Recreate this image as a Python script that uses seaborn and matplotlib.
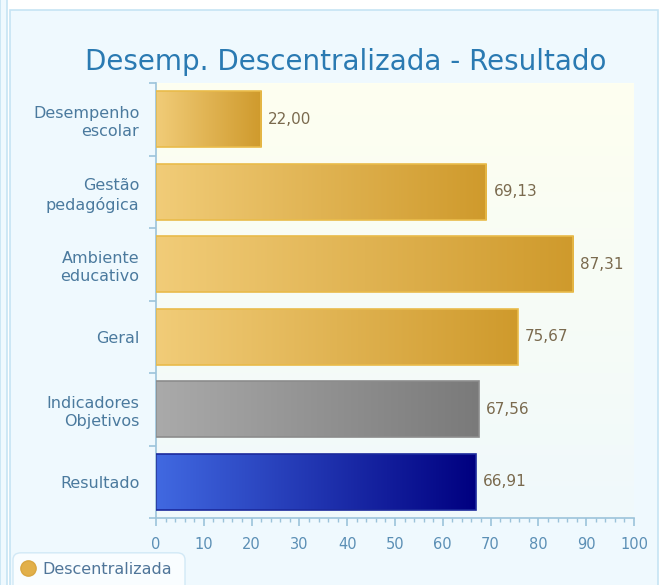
import numpy as np
import pandas as pd
import seaborn as sns
import matplotlib.pyplot as plt
from matplotlib.patches import Rectangle, FancyBboxPatch
from matplotlib.lines import Line2D
from matplotlib.colors import to_rgb
from matplotlib.ticker import MultipleLocator, FixedLocator

# Data
categories = ["Desempenho\nescolar", "Gestão\npedagógica", "Ambiente\neducativo",
              "Geral", "Indicadores\nObjetivos", "Resultado"]
values = [22.00, 69.13, 87.31, 75.67, 67.56, 66.91]
value_labels = ["22,00", "69,13", "87,31", "75,67", "67,56", "66,91"]
legend_label = "Descentralizada"
title = "Desemp. Descentralizada - Resultado"

# gradient (left, right, edge) for each bar
gold = ("#f1cc78", "#cf9a2c", "#e9bb4a")
grey = ("#aaaaaa", "#7a7a7a", "#8c8c8c")
blue = ("#4169e1", "#000080", "#1c2a9c")
bar_styles = [gold, gold, gold, gold, grey, blue]

df = pd.DataFrame({"cat": categories, "val": values})

sns.set_theme(style="white")
plt.rcParams["font.family"] = ["DejaVu Sans"]

fig = plt.figure(figsize=(6.64, 5.85), dpi=100)
fig.patch.set_facecolor("white")

# outer panel
W, H = 664, 585
fig.patches.append(Rectangle((10 / W, -0.01), 648 / W, 1 - 10 / H + 0.01, transform=fig.transFigure,
                             facecolor="#eff9fe", edgecolor="#c6e4f4", lw=1.2, zorder=-2))
fig.patches.append(Rectangle((0, -0.01), 7 / W, 1.02, transform=fig.transFigure,
                             facecolor="#eff9fe", edgecolor="#c6e4f4", lw=1.2, zorder=-2))

ax = fig.add_axes([156 / W, 1 - 518 / H, 478 / W, 435 / H])

sns.barplot(data=df, x="val", y="cat", hue="cat", palette=[s[0] for s in bar_styles],
            legend=False, orient="h", width=0.77, ax=ax, saturation=1)

# background gradient of plot area
bg = np.linspace(0, 1, 256)[:, None]
top, bot = np.array(to_rgb("#fefff0")), np.array(to_rgb("#f0f9fc"))
bg_img = top[None, None, :] * (1 - bg[..., None]) + bot[None, None, :] * bg[..., None]
ax.imshow(bg_img, extent=[0, 1, 0, 1], transform=ax.transAxes, aspect="auto", zorder=-5)
ax.patch.set_facecolor("none")

# horizontal gradients on bars
for patch, (c0, c1, ec) in zip(ax.patches, bar_styles):
    x0, y0 = patch.get_x(), patch.get_y()
    w, h = patch.get_width(), patch.get_height()
    t = np.linspace(0, 1, 256)[None, :, None]
    img = np.array(to_rgb(c0))[None, None, :] * (1 - t) + np.array(to_rgb(c1))[None, None, :] * t
    im = ax.imshow(img, extent=[x0, x0 + w, y0 + h, y0], aspect="auto", zorder=2)
    im.set_clip_path(patch)
    patch.set_facecolor("none")
    patch.set_edgecolor(ec)
    patch.set_linewidth(1.2)
    patch.set_zorder(3)

# value labels
for i, (v, lab) in enumerate(zip(values, value_labels)):
    ax.annotate(lab, (v, i), xytext=(5, 0), textcoords="offset points",
                va="center", ha="left", fontsize=11, color="#7a6a4e")

ax.set_xlim(0, 100)
ax.set_ylim(len(categories) - 0.5, -0.5)
ax.set_xlabel("")
ax.set_ylabel("")

axis_col = "#9cc3da"
for s in ["top", "right"]:
    ax.spines[s].set_visible(False)
for s in ["left", "bottom"]:
    ax.spines[s].set_color(axis_col)
    ax.spines[s].set_linewidth(1.2)

ax.xaxis.set_major_locator(MultipleLocator(10))
ax.xaxis.set_minor_locator(MultipleLocator(2))
ax.tick_params(axis="x", which="major", direction="out", length=6, width=1.2,
               color=axis_col, labelsize=10.5, labelcolor="#5b8fb5", pad=8, bottom=True)
ax.tick_params(axis="x", which="minor", direction="out", length=3, width=1,
               color=axis_col, bottom=True)

ax.yaxis.set_minor_locator(FixedLocator(np.arange(-0.5, len(categories), 1.0)))
ax.tick_params(axis="y", which="major", length=0, labelsize=11.5, labelcolor="#4b7a9e", pad=12)
ax.tick_params(axis="y", which="minor", direction="out", length=5, width=1.2,
               color=axis_col, left=True)
for lab in ax.get_yticklabels():
    lab.set_multialignment("right")
    lab.set_linespacing(1.3)

fig.text(346 / W, 1 - 62 / H, title, ha="center", va="center", fontsize=20, color="#2a7ab2")

# legend box
fig.patches.append(FancyBboxPatch((13 / W, -0.02), 172 / W, 0.075,
                                  boxstyle="round,pad=0,rounding_size=0.012",
                                  transform=fig.transFigure, facecolor="#f9fdff",
                                  edgecolor="#d2e9f6", lw=1, zorder=1))
handle = Line2D([], [], marker="o", linestyle="none", markersize=11,
                markerfacecolor="#e2b04a", markeredgecolor="#d9a640")
fig.legend([handle], [legend_label], loc="center left", bbox_to_anchor=(12 / W, 1 - 569 / H),
           frameon=False, fontsize=11.5, labelcolor="#4f7599", handletextpad=0.3,
           borderaxespad=0, handlelength=1.2)

fig.savefig("out.png", dpi=100)
